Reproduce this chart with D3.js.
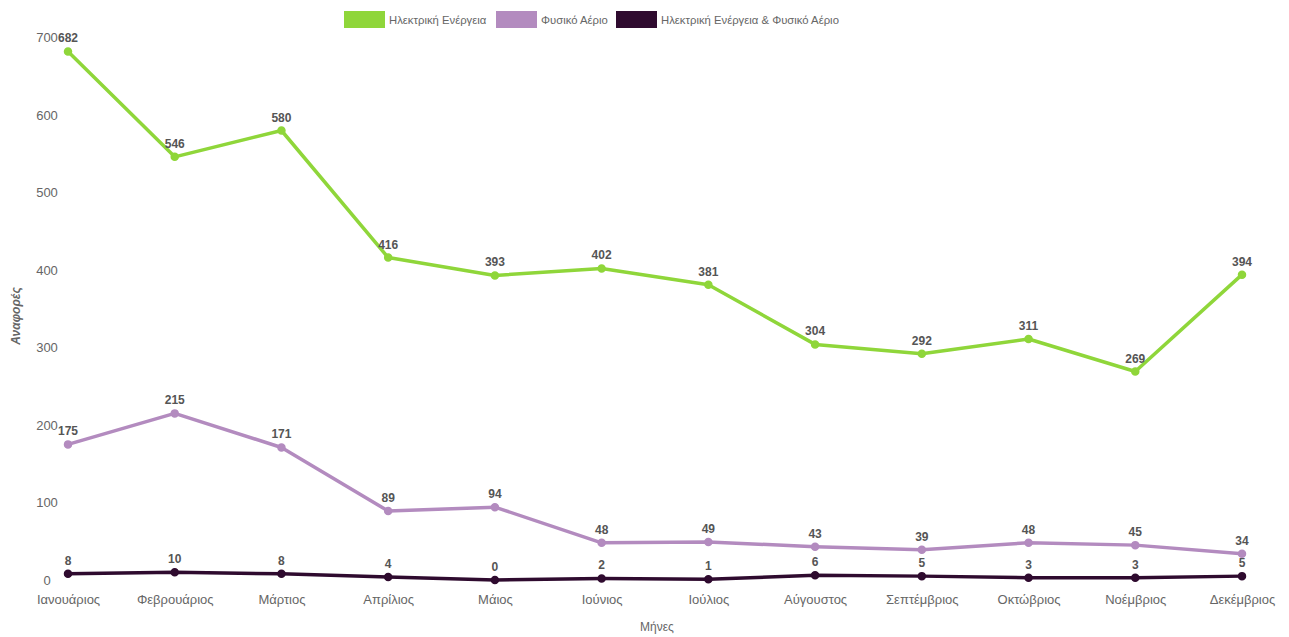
<!DOCTYPE html>
<html>
<head>
<meta charset="utf-8">
<script src="https://cdn.jsdelivr.net/npm/d3@7"></script>
<style>
  html, body { margin: 0; padding: 0; background: #fff; }
  svg { display: block; font-family: "Liberation Sans", Arial, sans-serif; }
</style>
</head>
<body>
<svg id="chart" width="1289" height="637"></svg>
<script>
// Monthly report counts per energy type
const months = ["Ιανουάριος", "Φεβρουάριος", "Μάρτιος", "Απρίλιος", "Μάιος", "Ιούνιος",
                "Ιούλιος", "Αύγουστος", "Σεπτέμβριος", "Οκτώβριος", "Νοέμβριος", "Δεκέμβριος"];
const electricity = [682, 546, 580, 416, 393, 402, 381, 304, 292, 311, 269, 394];
const gas = [175, 215, 171, 89, 94, 48, 49, 43, 39, 48, 45, 34];
const both = [8, 10, 8, 4, 0, 2, 1, 6, 5, 3, 3, 5];
const yTicks = [0, 100, 200, 300, 400, 500, 600, 700];

const seriesNames = ["Ηλεκτρική Ενέργεια", "Φυσικό Αέριο", "Ηλεκτρική Ενέργεια & Φυσικό Αέριο"];
const seriesColors = ["#8fd63a", "#b38bbf", "#2f0b2f"];
const series = [electricity, gas, both].map((values, i) => ({
  name: seriesNames[i], color: seriesColors[i], values
}));

const svg = d3.select("#chart");

const x = d3.scalePoint().domain(months).range([68, 1242]);
const y = d3.scaleLinear().domain([0, 700]).range([580, 37.5]);

// Y axis tick labels
const yAxis = svg.append("g").attr("transform", "translate(47,0)")
  .call(d3.axisLeft(y).tickValues(yTicks).tickSize(0).tickPadding(0));
yAxis.select(".domain").remove();
yAxis.selectAll("text")
  .attr("text-anchor", "middle")
  .attr("fill", "#666")
  .style("font-size", "13px")
  .style("font-family", "Liberation Sans, Arial, sans-serif");

// X axis tick labels
const xAxis = svg.append("g").attr("transform", "translate(0,595)")
  .call(d3.axisBottom(x).tickSize(0).tickPadding(0));
xAxis.select(".domain").remove();
xAxis.selectAll("text")
  .attr("fill", "#666")
  .style("font-size", "13px")
  .style("font-family", "Liberation Sans, Arial, sans-serif");

// Axis titles
svg.append("text")
  .attr("transform", "translate(20,316) rotate(-90)")
  .attr("text-anchor", "middle")
  .attr("fill", "#666")
  .style("font-size", "12px")
  .style("font-style", "italic")
  .style("font-weight", "bold")
  .text("Αναφορές");

svg.append("text")
  .attr("x", 657).attr("y", 631)
  .attr("text-anchor", "middle")
  .attr("fill", "#666")
  .style("font-size", "12px")
  .text("Μήνες");

// Lines, points and value labels
const line = d3.line()
  .x((d, i) => x(months[i]))
  .y(d => y(d));

series.forEach(s => {
  const g = svg.append("g");
  g.append("path")
    .datum(s.values)
    .attr("fill", "none")
    .attr("stroke", s.color)
    .attr("stroke-width", 3.5)
    .attr("stroke-linejoin", "round")
    .attr("d", line);
  g.selectAll("circle")
    .data(s.values)
    .join("circle")
    .attr("cx", (d, i) => x(months[i]))
    .attr("cy", d => y(d))
    .attr("r", 3.5)
    .attr("fill", s.color)
    .attr("stroke", s.color)
    .attr("stroke-width", 1.5);
  g.selectAll("text")
    .data(s.values)
    .join("text")
    .attr("x", (d, i) => x(months[i]))
    .attr("y", d => y(d) - 9)
    .attr("text-anchor", "middle")
    .attr("fill", "#555")
    .style("font-size", "12px")
    .style("font-weight", "bold")
    .text(d => d);
});

// Legend
const legendX = [344, 496, 616];
const legend = svg.append("g");
series.forEach((s, i) => {
  legend.append("rect")
    .attr("x", legendX[i]).attr("y", 11)
    .attr("width", 41).attr("height", 17)
    .attr("fill", s.color);
  legend.append("text")
    .attr("x", legendX[i] + 45).attr("y", 24)
    .attr("fill", "#666")
    .style("font-size", "11.3px")
    .text(s.name);
});
</script>
</body>
</html>
